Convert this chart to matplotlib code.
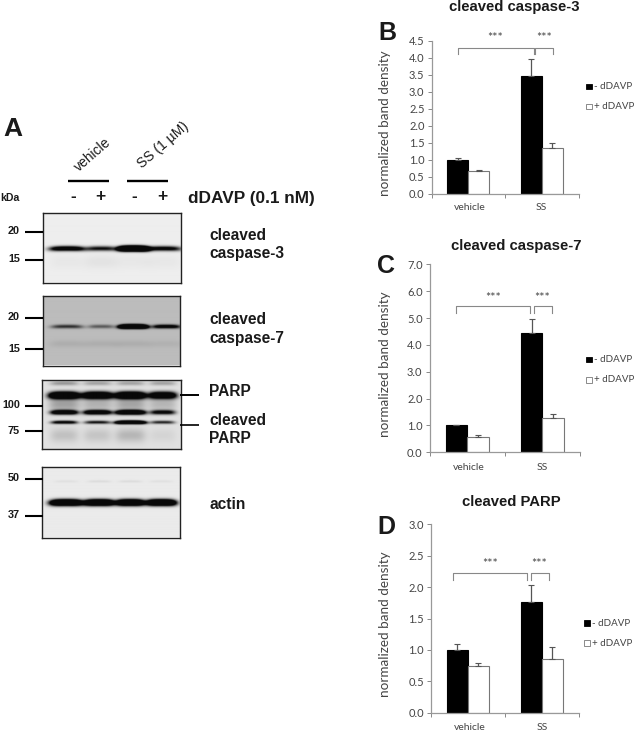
import numpy as np
import matplotlib
matplotlib.use("Agg")
import matplotlib.pyplot as plt

W, H = 634, 732
BOLD = "Liberation Sans"
THIN = "Lato"

# ---------- chart data ----------
groups = ["vehicle", "SS"]
legend_labels = ["- dDAVP", "+ dDAVP"]

casp3_minus = [1.0, 3.46]
casp3_plus = [0.66, 1.33]
casp3_minus_err = [0.04, 0.51]
casp3_plus_err = [0.05, 0.15]
casp3_ticks = [0.0, 0.5, 1.0, 1.5, 2.0, 2.5, 3.0, 3.5, 4.0, 4.5]

casp7_minus = [1.0, 4.45]
casp7_plus = [0.56, 1.27]
casp7_minus_err = [0.03, 0.52]
casp7_plus_err = [0.07, 0.17]
casp7_ticks = [0.0, 1.0, 2.0, 3.0, 4.0, 5.0, 6.0, 7.0]

parp_minus = [1.0, 1.77]
parp_plus = [0.75, 0.85]
parp_minus_err = [0.09, 0.26]
parp_plus_err = [0.04, 0.19]
parp_ticks = [0.0, 0.5, 1.0, 1.5, 2.0, 2.5, 3.0]

# ---------- blot data (band y, thickness, relative strength per lane, lane width) ----------
casp3_lanes = [67, 101, 133, 163]
casp3_bands = [(249, 2.4, [1.5, 1.0, 4.5, 1.2], [36, 30, 30, 36]),
               (262, 7.0, [0.03, 0.05, 0.03, 0.03], [34, 34, 34, 34])]
casp3_bg = 238

casp7_lanes = [67, 101, 133, 166]
casp7_bands = [(327, 1.9, [0.8, 0.55, 4.5, 1.4], [32, 26, 28, 28]),
               (344, 3.5, [0.08, 0.08, 0.08, 0.06], [36, 36, 36, 36])]
casp7_bg = 188

parp_lanes = [64, 97, 130, 162]
parp_bands = [(395, 3.4, [2.4, 2.2, 2.4, 1.9], [31, 31, 31, 28]),
              (412, 2.2, [1.8, 1.8, 2.2, 1.2], [27, 28, 30, 25]),
              (422, 1.6, [1.3, 1.0, 3.0, 0.9], [26, 26, 30, 24]),
              (404, 7.0, [0.3, 0.22, 0.28, 0.2], [31, 31, 31, 28]),
              (383, 2.2, [0.35, 0.3, 0.3, 0.3], [28, 28, 28, 26]),
              (435, 7.0, [0.15, 0.13, 0.2, 0.06], [28, 28, 30, 26])]
parp_bg = 225

actin_lanes = [66, 99, 130, 161]
actin_bands = [(503, 3.0, [2.6, 2.6, 2.6, 2.6], [33, 30, 28, 30]),
               (482, 1.2, [0.05, 0.07, 0.07, 0.05], [24, 24, 24, 24])]
actin_bg = 235

sign_x = [73, 100, 134, 162]
sign_labels = ["-", "+", "-", "+"]

fig = plt.figure(figsize=(W / 100, H / 100), dpi=100, facecolor="white")


def px_axes(x0, y_top, x1, y_bot, **kw):
    return fig.add_axes([x0 / W, 1 - y_bot / H, (x1 - x0) / W, (y_bot - y_top) / H], **kw)


over = px_axes(0, 0, W, H, zorder=5)
over.set_xlim(0, W)
over.set_ylim(H, 0)
over.axis("off")
over.patch.set_alpha(0)


def blot(x0, y0, x1, y1, lanes, bands, bg, edge="#222222"):
    ax = px_axes(x0, y0, x1, y1)
    xs = np.arange(x0, x1, 0.5)
    ys = np.arange(y0, y1, 0.5)
    X, Y = np.meshgrid(xs, ys)
    dark = np.zeros_like(X)
    for yc, th, strengths, widths in bands:
        for lx, s, w in zip(lanes, strengths, widths):
            lateral = np.exp(-(np.abs(X - lx) / (w / 2)) ** 4)
            curve = yc + 0.0012 * (X - lx) ** 2
            dark += s * lateral * np.exp(-((Y - curve) / th) ** 2)
    d = np.clip(dark, 0, 1)
    img = bg * (1 - d) + 8 * d
    ax.imshow(img, cmap="gray", vmin=0, vmax=255, aspect="auto",
              extent=(x0, x1, y1, y0), interpolation="bilinear")
    ax.set_xticks([])
    ax.set_yticks([])
    for s in ax.spines.values():
        s.set_color(edge)
        s.set_linewidth(1.0)


blot(43, 213, 181, 282.5, casp3_lanes, casp3_bands, casp3_bg)
blot(43, 296, 180, 365.5, casp7_lanes, casp7_bands, casp7_bg)
blot(42, 380, 180.5, 449, parp_lanes, parp_bands, parp_bg)
blot(42, 467, 180, 537.5, actin_lanes, actin_bands, actin_bg)


def ptext(x, y, s, size=10, weight="bold", ha="left", va="center", family=BOLD, color="#1a1a1a", **kw):
    over.text(x, y, s, fontsize=size, fontweight=weight, ha=ha, va=va, family=family, color=color, **kw)


def pline(xs, ys, lw=1.5, color="black"):
    over.plot(xs, ys, color=color, lw=lw, solid_capstyle="butt")


# Marker labels
for y, s in [(231, "20"), (259, "15"), (317.5, "20"), (348.5, "15"),
             (405, "100"), (430.5, "75"), (478, "50"), (515, "37")]:
    ptext(20, y, s, size=7.8, ha="right")
    pline([25, 43], [y + 0.5, y + 0.5])

ptext(0, 198, "kDa", size=7.6)
ptext(3, 129, "A", size=19)
pline([67.5, 109], [180.5, 180.5], lw=1.7)
pline([127, 168], [180.5, 180.5], lw=1.7)
ptext(81, 174, "vehicle", size=10, weight="normal", rotation=41, rotation_mode="anchor", va="bottom", ha="left")
ptext(144, 171, "SS (1 \u00b5M)", size=10, weight="normal", rotation=41, rotation_mode="anchor", va="bottom", ha="left")
for x, s in zip(sign_x, sign_labels):
    ptext(x, 196.5, s, size=12.5, ha="center")
ptext(188, 199, "dDAVP (0.1 nM)", size=12.4)

ptext(209, 235.5, "cleaved", size=11.2)
ptext(209, 253.5, "caspase-3", size=11.2)
ptext(209, 319.5, "cleaved", size=11.2)
ptext(209, 338, "caspase-7", size=11.2)
ptext(209, 392, "PARP", size=11.2)
ptext(209, 420.5, "cleaved", size=11.2)
ptext(209, 438.5, "PARP", size=11.2)
ptext(209, 504.5, "actin", size=11.2)
pline([180, 199], [394.5, 394.5], lw=1.4)
pline([180, 199], [424.5, 424.5], lw=1.2)


def bar_panel(rect, ymax, minus, plus, minus_err, plus_err, ticks, title, title_xy, letter_xy, letter,
              legend_y, legend_x, b1, b2, star_y, ylabel_x, xlab_y):
    x0, yt, x1, yb = rect
    ax = px_axes(x0, yt, x1, yb)
    ax.patch.set_alpha(0)
    pos = np.arange(len(groups))
    w = 0.285
    for off, vals, errs, fc in [(-w / 2, minus, minus_err, "black"), (w / 2, plus, plus_err, "white")]:
        ax.bar(pos + off, vals, width=w, color=fc, edgecolor="#777777" if fc == "white" else "black", linewidth=0.8)
        ax.errorbar(pos + off, vals, yerr=[np.zeros(len(vals)), errs], fmt="none",
                    ecolor="#555555", elinewidth=0.9, capsize=2.2, capthick=0.8)
    ax.set_xlim(-0.5, 1.5)
    ax.set_ylim(0, ymax)
    ax.set_yticks(ticks)
    ax.set_yticklabels([f"{t:.1f}" for t in ticks], family=THIN, fontsize=8, color="#444444")
    ax.set_xticks([-0.5, 0.5, 1.5])
    ax.set_xticklabels([])
    ax.tick_params(axis="y", length=3, width=0.7, color="#888888", pad=2)
    ax.tick_params(axis="x", length=3, width=0.7, color="#888888")
    for s in ("top", "right"):
        ax.spines[s].set_visible(False)
    for s in ("left", "bottom"):
        ax.spines[s].set_color("#999999")
        ax.spines[s].set_linewidth(0.9)
    unit = (x1 - x0) / 2
    for i, g in enumerate(groups):
        ptext(x0 + unit * (i + 0.5) + (2 if i == 0 else 0), xlab_y, g, size=7.5, weight="normal", ha="center",
              family=THIN, color="#444444")
    ptext(ylabel_x, (yt + yb) / 2 + 6, "normalized band density", size=9.7, weight="normal", ha="center",
          family=THIN, rotation=90, color="#444444")
    ptext(title_xy[0], title_xy[1], title, size=10.7, ha="center")
    ptext(letter_xy[0], letter_xy[1], letter, size=18)
    # significance brackets
    bc = "#888888"
    over.plot([b1[0], b1[0], b1[1], b1[1]], [b1[3], b1[2], b1[2], b1[3]], color=bc, lw=0.8)
    over.plot([b2[0], b2[0], b2[1], b2[1]], [b2[3], b2[2], b2[2], b2[3]], color=bc, lw=0.8)
    ptext((b1[0] + b1[1]) / 2, star_y, "***", size=9, weight="normal", ha="center", family=THIN, color="#444444")
    ptext((b2[0] + b2[1]) / 2, star_y, "***", size=9, weight="normal", ha="center", family=THIN, color="#444444")
    # legend
    for i, (lab, fc) in enumerate(zip(legend_labels, ["black", "white"])):
        y = legend_y[i]
        over.add_patch(plt.Rectangle((legend_x, y - 2.8), 5.7, 5.7, fc=fc, ec="black" if fc == "black" else "#777777", lw=0.6))
        ptext(legend_x + 8, y, lab, size=7.0, weight="normal", family=THIN, color="#444444")


bar_panel((431.5, 40.7, 578.5, 193.7), 4.5, casp3_minus, casp3_plus, casp3_minus_err, casp3_plus_err,
          casp3_ticks, "cleaved caspase-3", (514, 6.5), (378, 33), "B", (86.5, 106.5), 586,
          (457.5, 533.5, 47.5, 54), (535, 552.5, 47.5, 54), 38.5, 385, 208)
bar_panel((429.5, 264.3, 580, 452.3), 7.0, casp7_minus, casp7_plus, casp7_minus_err, casp7_plus_err,
          casp7_ticks, "cleaved caspase-7", (516.5, 246), (377, 266), "C", (359.5, 380), 586,
          (455.5, 530, 306, 313), (533.5, 551.5, 306, 313), 297.5, 385, 467)
bar_panel((430.7, 524.3, 579, 712.7), 3.0, parp_minus, parp_plus, parp_minus_err, parp_plus_err,
          parp_ticks, "cleaved PARP", (511, 502), (377, 527), "D", (623, 643), 584,
          (452.5, 527, 572.5, 579.5), (530.5, 548.5, 572.5, 579.5), 564, 385, 728)

fig.savefig("out.png", dpi=100, facecolor="white")
